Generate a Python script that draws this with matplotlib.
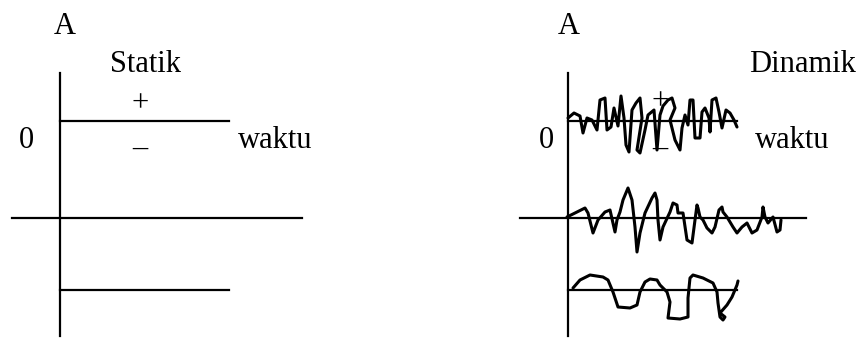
import matplotlib.pyplot as plt

plt.rcParams['font.family'] = ['Liberation Serif', 'DejaVu Serif']

# axes lines of the two sketches (pixel positions of the original drawing)
ax_left_x = 60
ax_right_x = 568
axis_top = 73
axis_bottom = 336
levels_y = [121, 218, 290]

# traced wiggles of the "Dinamik" sketch
dyn1_x = [568, 574, 580, 583, 587, 592, 597, 600, 605, 607, 611, 614, 618, 621, 624, 626,
          629, 632, 636, 640, 642, 637, 640, 645, 648, 654, 657, 660, 663, 668, 672, 675,
          670, 675, 680, 682, 685, 688, 690, 693, 695, 700, 702, 705, 709, 710, 712, 716,
          719, 722, 726, 730, 734, 737]
dyn1_y = [118, 113, 116, 133, 118, 120, 130, 100, 98, 130, 127, 108, 126, 96, 118, 145,
          152, 110, 103, 98, 118, 150, 153, 130, 115, 110, 150, 115, 106, 100, 98, 108,
          120, 140, 150, 128, 115, 125, 100, 100, 138, 138, 112, 108, 118, 132, 100, 98,
          112, 128, 110, 113, 120, 127]

dyn2_x = [567, 577, 585, 588, 593, 598, 605, 610, 615, 617, 620, 623, 628, 632, 635, 637,
          640, 645, 652, 655, 657, 658, 660, 663, 670, 673, 677, 678, 683, 687, 692, 695,
          697, 698, 700, 703, 707, 712, 715, 719, 722, 723, 727, 733, 737, 742, 747, 752,
          757, 762, 763, 765, 768, 773, 777, 780, 781]
dyn2_y = [217, 212, 208, 213, 233, 220, 212, 210, 232, 220, 212, 200, 188, 200, 227, 252,
          233, 213, 198, 193, 200, 220, 240, 227, 212, 203, 205, 213, 213, 240, 243, 220,
          205, 208, 217, 220, 228, 233, 227, 210, 207, 212, 217, 227, 233, 227, 223, 233,
          230, 217, 207, 217, 223, 217, 232, 230, 220]

dyn3_x = [573, 580, 590, 603, 608, 613, 618, 630, 637, 640, 645, 650, 657, 660, 667, 670,
          668, 680, 688, 688, 690, 693, 703, 713, 717, 718, 720, 723, 725, 720, 727, 732,
          737, 738]
dyn3_y = [288, 280, 275, 277, 280, 292, 307, 308, 305, 292, 282, 279, 280, 285, 292, 302,
          318, 319, 317, 298, 278, 275, 278, 283, 292, 303, 317, 320, 317, 313, 305, 297,
          285, 281]

fig = plt.figure(figsize=(8.63, 3.38), dpi=100)
ax = fig.add_axes([0, 0, 1, 1])
ax.set_xlim(0, 863)
ax.set_ylim(338, 0)
ax.axis('off')

lw = 1.6
# Statik
ax.plot([ax_left_x, ax_left_x], [axis_top, axis_bottom], color='black', lw=lw)
ax.plot([ax_left_x, 229], [levels_y[0]] * 2, color='black', lw=lw)
ax.plot([12, 302], [levels_y[1]] * 2, color='black', lw=lw)
ax.plot([ax_left_x, 229], [levels_y[2]] * 2, color='black', lw=lw)

# Dinamik
ax.plot([ax_right_x, ax_right_x], [axis_top, axis_bottom], color='black', lw=lw)
ax.plot([ax_right_x, 737], [levels_y[0]] * 2, color='black', lw=lw)
ax.plot([520, 806], [levels_y[1]] * 2, color='black', lw=lw)
ax.plot([ax_right_x, 737], [levels_y[2]] * 2, color='black', lw=lw)
for xs, ys in [(dyn1_x, dyn1_y), (dyn2_x, dyn2_y), (dyn3_x, dyn3_y)]:
    ax.plot(xs, ys, color='black', lw=2.2, solid_joinstyle='round', solid_capstyle='round')

fs = 22
txt = dict(fontsize=fs, ha='center', va='center', color='black')
ax.text(65, 27, 'A', **txt)
ax.text(145, 65, 'Statik', **txt)
ax.text(140, 104, '+', **txt)
ax.text(140, 148, '\u2013', **txt)
ax.text(26, 141, '0', **txt)
ax.text(275, 141, 'waktu', **txt)

ax.text(569, 27, 'A', **txt)
ax.text(802, 65, 'Dinamik', **txt)
ax.text(660, 102, '+', **txt)
ax.text(660, 148, '\u2013', **txt)
ax.text(546, 141, '0', **txt)
ax.text(792, 141, 'waktu', **txt)

fig.savefig('out.png', dpi=100)
